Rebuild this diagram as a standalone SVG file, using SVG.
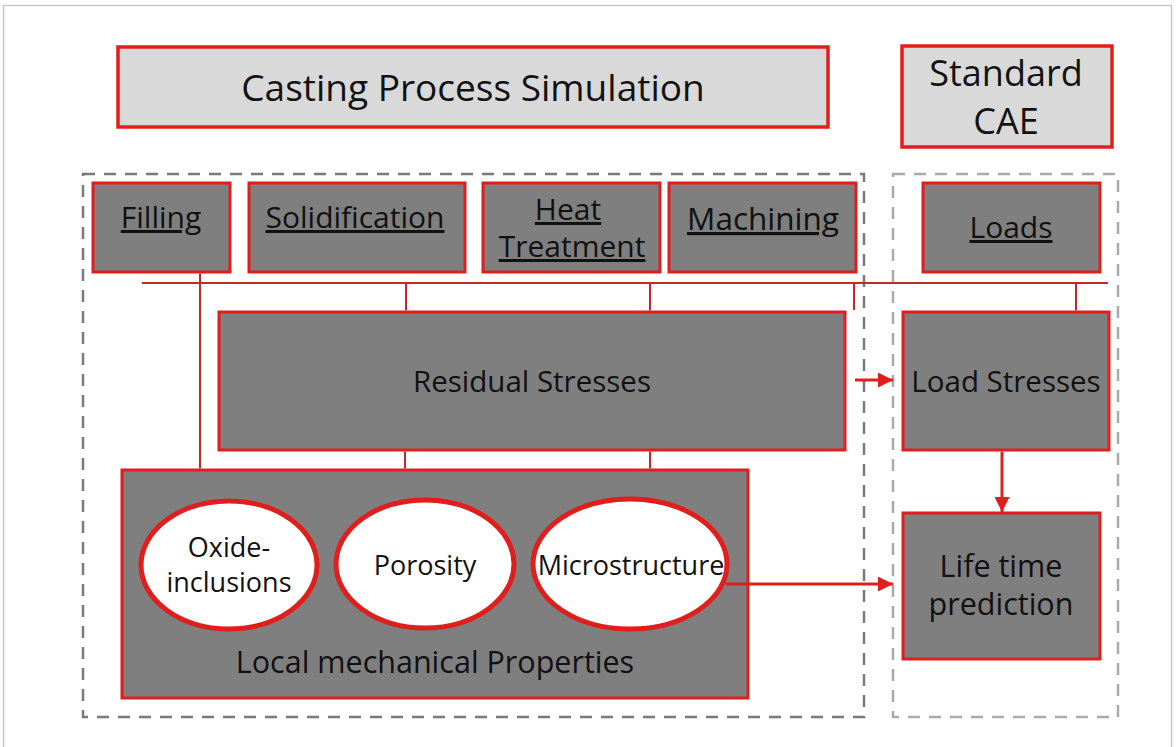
<svg xmlns="http://www.w3.org/2000/svg" width="1176" height="747" viewBox="0 0 1176 747">
<defs>
<style>
.box{fill:#7f7f7f;stroke:#e01e1e;stroke-width:3}
.top{fill:#d9d9d9;stroke:#e01e1e;stroke-width:3.5}
.ell{fill:#ffffff;stroke:#e01e1e;stroke-width:5}
.t{font-family:"Open Sans","Noto Sans",sans-serif;fill:#111;text-anchor:middle}
.u{text-decoration:underline}
.ln{stroke:#c62828;stroke-width:2;fill:none}
.ar{stroke:#e01e1e;stroke-width:3;fill:none}
.dash{fill:none;stroke:#7a7a7a;stroke-width:2.5;stroke-dasharray:12 9}
.dash2{fill:none;stroke:#aaaaaa;stroke-width:2.5;stroke-dasharray:12 9}
</style>
<marker id="ah" viewBox="0 0 10 10" refX="10" refY="5" markerWidth="5" markerHeight="5" orient="auto" markerUnits="strokeWidth">
<path d="M0,0 L10,5 L0,10 z" fill="#e01e1e"/>
</marker>
</defs>
<rect x="0" y="0" width="1176" height="747" fill="#ffffff"/>
<path d="M3.5,747 V5.5 H1171.5 V747" fill="none" stroke="#c8c8c8" stroke-width="1.5"/>

<g id="containers">
<rect class="dash" x="83" y="174" width="781" height="543"/>
<rect class="dash2" x="893" y="174" width="225" height="543"/>
</g>

<g id="title"><rect class="top" x="118" y="47" width="710" height="80"/><text class="t" x="473" y="101" font-size="37">Casting Process Simulation</text></g>
<g id="standard-cae"><rect class="top" x="902" y="46" width="210" height="101"/><text class="t" x="1006" y="86" font-size="36">Standard</text><text class="t" x="1006" y="134" font-size="36">CAE</text></g>

<g id="filling"><rect class="box" x="93" y="183" width="137" height="89"/><text class="t u" x="161" y="228" font-size="30">Filling</text></g>
<g id="solidification"><rect class="box" x="249" y="183" width="216" height="89"/><text class="t u" x="355" y="228" font-size="30">Solidification</text></g>
<g id="heat-treatment"><rect class="box" x="483" y="183" width="177" height="89"/><text class="t u" x="568" y="220" font-size="30">Heat</text><text class="t u" x="572" y="257" font-size="30">Treatment</text></g>
<g id="machining"><rect class="box" x="669" y="183" width="187" height="89"/><text class="t u" x="763" y="230" font-size="31.5">Machining</text></g>
<g id="loads"><rect class="box" x="923" y="183" width="177" height="89"/><text class="t u" x="1011" y="238" font-size="30">Loads</text></g>

<g id="residual-stresses"><rect class="box" x="219" y="312" width="626" height="138"/><text class="t" x="532" y="392" font-size="29.5">Residual Stresses</text></g>
<g id="load-stresses"><rect class="box" x="903" y="312" width="206" height="138"/><text class="t" x="1006" y="392" font-size="29.5">Load Stresses</text></g>

<g id="local-mechanical-properties"><rect class="box" x="122" y="470" width="626" height="228"/><text class="t" x="435" y="673" font-size="30.5">Local mechanical Properties</text></g>
<g id="oxide-inclusions"><ellipse class="ell" cx="229" cy="565" rx="88" ry="64"/><text class="t" x="229" y="557" font-size="27">Oxide-</text><text class="t" x="229" y="592" font-size="27">inclusions</text></g>
<g id="porosity"><ellipse class="ell" cx="425" cy="564" rx="89" ry="64"/><text class="t" x="425" y="575" font-size="27">Porosity</text></g>
<g id="microstructure"><ellipse class="ell" cx="630" cy="564" rx="97" ry="65"/><text class="t" x="631" y="575" font-size="27">Microstructure</text></g>

<g id="life-time-prediction"><rect class="box" x="903" y="513" width="197" height="146"/><text class="t" x="1001" y="577" font-size="30.5">Life time</text><text class="t" x="1001" y="615" font-size="30.5">prediction</text></g>

<g id="connectors">
<line class="ln" x1="142" y1="283" x2="1108" y2="283"/>
<line class="ln" x1="200" y1="273.5" x2="200" y2="468.5"/>
<line class="ln" x1="406" y1="283" x2="406" y2="310.5"/>
<line class="ln" x1="650" y1="283" x2="650" y2="310.5"/>
<line class="ln" x1="854" y1="283" x2="854" y2="310"/>
<line class="ln" x1="1076" y1="283" x2="1076" y2="310.5"/>
<line class="ln" x1="405" y1="451.5" x2="405" y2="468.5"/>
<line class="ln" x1="650" y1="451.5" x2="650" y2="468.5"/>
<line class="ar" x1="855" y1="380" x2="893" y2="380" marker-end="url(#ah)"/>
<line class="ar" x1="1002" y1="451.5" x2="1002" y2="512" marker-end="url(#ah)"/>
<line class="ar" x1="726" y1="584" x2="893" y2="584" marker-end="url(#ah)"/>
</g>
</svg>
